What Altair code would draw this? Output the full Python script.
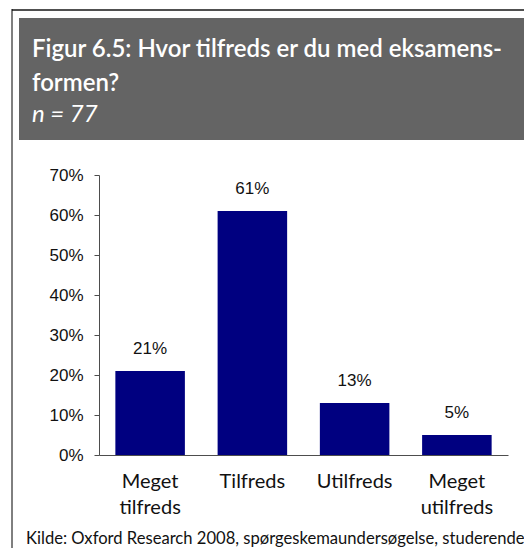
import altair as alt
import pandas as pd

# ---- data ----
categories = ["Meget\ntilfreds", "Tilfreds", "Utilfreds", "Meget\nutilfreds"]
values = [0.21, 0.61, 0.13, 0.05]
y_ticks = [0, 0.1, 0.2, 0.3, 0.4, 0.5, 0.6, 0.7]

title_line1 = "Figur 6.5: Hvor tilfreds er du med eksamens-"
title_line2 = "formen?"
subtitle = "n = 77"
source_note = "Kilde: Oxford Research 2008, spørgeskemaundersøgelse, studerende"

df = pd.DataFrame({"cat": categories, "val": values})
one = pd.DataFrame({"k": [0]})

BAR = "#000080"
HEAD = "#646464"
AXIS = "#4d4d4d"

x_enc = alt.X(
    "cat:N",
    sort=categories,
    scale=alt.Scale(paddingInner=0.32, paddingOuter=0.16),
    axis=alt.Axis(
        title=None,
        ticks=False,
        tickSize=0,
        labelAngle=0,
        labelFont="Lato",
        labelFontSize=20,
        labelColor="#111111",
        labelBaseline="alphabetic",
        labelPadding=32,
        labelLineHeight=26,
        labelExpr="split(datum.label, '\\n')",
        domainColor=AXIS,
        domainWidth=1,
    ),
)
y_enc = alt.Y(
    "val:Q",
    scale=alt.Scale(domain=[0, 0.7], nice=False, zero=True),
    axis=alt.Axis(
        title=None,
        values=y_ticks,
        tickCount=8,
        format=".0%",
        grid=False,
        tickSize=5,
        tickColor=AXIS,
        domainColor=AXIS,
        labelOverlap=False,
        labelFlush=False,
        labelFont="Liberation Sans",
        labelFontSize=17,
        labelColor="#111111",
        labelPadding=11,
        labelBaseline="middle",
    ),
)

base = alt.Chart(df).encode(x=x_enc, y=y_enc)
bars = base.mark_bar(color=BAR)
labels = base.mark_text(
    font="Liberation Sans", fontSize=17, color="#111111",
    baseline="alphabetic", dy=-17,
).encode(text=alt.Text("val:Q", format=".0%"))

RIGHT = 425  # right edge of the drawing, relative to plot origin

header = alt.Chart(one).mark_rect(color=HEAD).encode(
    x=alt.value(-80), x2=alt.value(RIGHT), y=alt.value(-157), y2=alt.value(-35)
)
top_rule = alt.Chart(one).mark_rule(color="#505050", strokeWidth=2).encode(
    x=alt.value(-87), x2=alt.value(RIGHT), y=alt.value(-165)
)
left_rule = alt.Chart(one).mark_rule(color="#000000", strokeWidth=1).encode(
    x=alt.value(-87), y=alt.value(-166), y2=alt.value(390)
)

t1 = alt.Chart(one).mark_text(
    text=title_line1, font="Lato", fontSize=24, fontWeight=600, color="white",
    align="left", baseline="alphabetic",
).encode(x=alt.value(-67), y=alt.value(-118))
t2 = alt.Chart(one).mark_text(
    text=title_line2, font="Lato", fontSize=24, fontWeight=600, color="white",
    align="left", baseline="alphabetic",
).encode(x=alt.value(-67), y=alt.value(-84))
t3 = alt.Chart(one).mark_text(
    text=subtitle, font="Lato", fontSize=24, fontStyle="italic", color="white",
    align="left", baseline="alphabetic",
).encode(x=alt.value(-67), y=alt.value(-53))
src = alt.Chart(one).mark_text(
    text=source_note, font="Lato", fontSize=16.6, color="#111111",
    align="left", baseline="alphabetic",
).encode(x=alt.value(-73), y=alt.value(369))

chart = alt.layer(
    header, top_rule, left_rule, t1, t2, t3, src, bars, labels
).properties(
    width=409,
    height=280,
    autosize=alt.AutoSizeParams(type="none"),
    padding={"left": 91, "top": 167, "right": 16, "bottom": 93},
    background="white",
).configure_view(stroke=None)

chart.save("out.html", embed_options={"renderer": "svg", "actions": False})
